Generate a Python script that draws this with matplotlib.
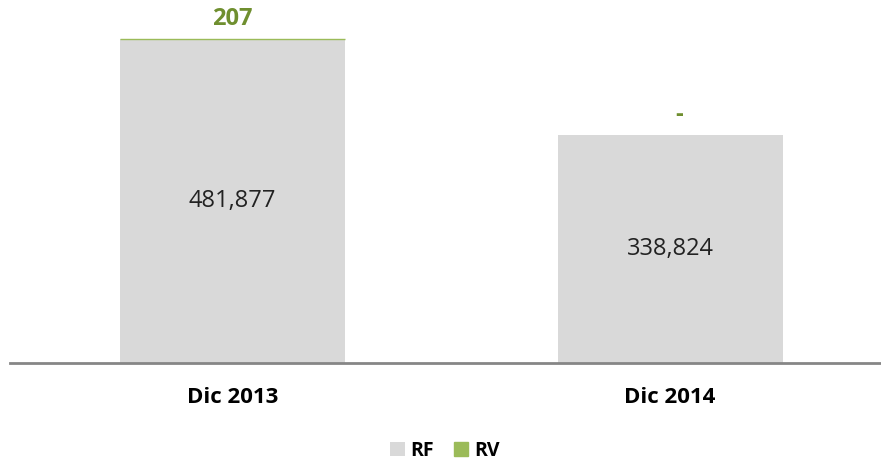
import matplotlib.pyplot as plt

plt.rcParams['font.family'] = ['Open Sans', 'DejaVu Sans']

categories = ['Dic 2013', 'Dic 2014']
rf = [481877, 338824]
rv = [207, 0]
rv_labels = ['207', '-']

fig = plt.figure(figsize=(8.81, 4.61), dpi=100)
ax = fig.add_axes([0.011, 1 - 363 / 461, 0.989, 363 / 461])

x = list(range(len(categories)))
ax.bar(x, rf, width=0.514, color='#d9d9d9', label='RF')
ax.bar(x, rv, width=0.514, bottom=rf, color='#9bbb59', label='RV',
       edgecolor='#9bbb59', linewidth=[1 if v > 0 else 0 for v in rv])

for i in x:
    ax.text(i, rf[i] / 2, f'{rf[i]:,}', ha='center', va='center', fontsize=17, color='#222222')
    ax.text(i + (0.02 if rv[i] == 0 else 0), rf[i] + rv[i] + 12000, rv_labels[i], ha='center', va='bottom',
            fontsize=17, fontweight='bold', color='#6f8f2f')

ax.set_xlim(-0.5086, 1.482)
ax.set_ylim(0, 540000)
ax.set_xticks(x)
ax.set_xticklabels(categories, fontsize=16, fontweight='bold')
ax.tick_params(axis='x', length=0, pad=17)
ax.set_yticks([])
for s in ['top', 'right', 'left']:
    ax.spines[s].set_visible(False)
ax.spines['bottom'].set_color('#868686')
ax.spines['bottom'].set_linewidth(2)

fig.legend(loc='center', bbox_to_anchor=(0.505, 1 - 451 / 461), ncol=2, frameon=False,
           prop={'weight': 'bold', 'size': 14}, handlelength=0.75, handleheight=0.75,
           handletextpad=0.3, columnspacing=1.0)

fig.savefig('out.png')
